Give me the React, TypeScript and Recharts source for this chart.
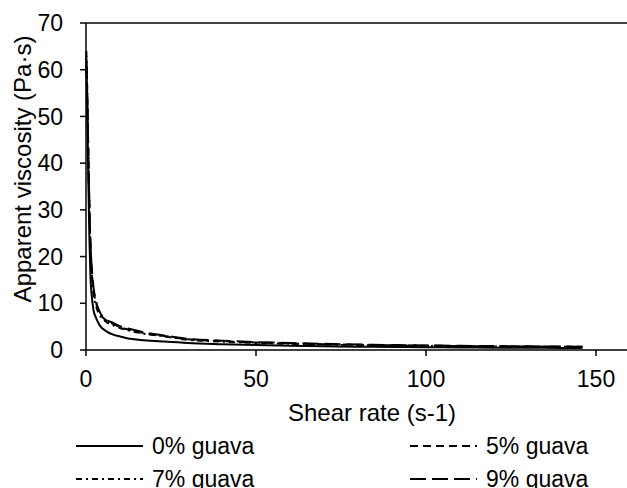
import React from 'react';
import { LineChart, Line, XAxis, YAxis, Legend, ReferenceLine } from 'recharts';

// shear rate (s-1) and apparent viscosity (Pa·s)
const shearRate = [0.1, 0.3, 0.5, 0.7, 1, 1.3, 1.7, 2.2, 3, 4, 6, 8, 10, 13, 17, 23, 30, 40, 50, 60, 70, 80, 90, 100, 110, 120, 130, 140, 146];
const guava0 = [63, 55, 45, 36, 24, 16, 11.5, 8.6, 6.8, 5.3, 4.0, 3.3, 2.9, 2.4, 2.1, 1.8, 1.5, 1.25, 1.05, 0.9, 0.8, 0.72, 0.65, 0.6, 0.55, 0.5, 0.47, 0.44, 0.42];
const guava5 = [60, 57, 50, 42, 31, 23, 17, 13, 10, 8, 6.3, 5.6, 4.9, 4.3, 3.6, 3.0, 2.3, 1.9, 1.6, 1.4, 1.25, 1.1, 1.0, 0.92, 0.85, 0.8, 0.75, 0.7, 0.68];
const guava7 = [64, 58, 50, 41, 30, 22, 16, 12, 9.3, 7.5, 6.0, 5.3, 4.7, 4.1, 3.5, 2.9, 2.2, 1.8, 1.5, 1.3, 1.15, 1.05, 0.95, 0.88, 0.82, 0.77, 0.72, 0.68, 0.65];
const guava9 = [62, 56, 49, 41, 31, 23, 17.5, 13.5, 10.3, 8.2, 6.5, 5.8, 5.1, 4.5, 3.8, 3.1, 2.4, 2.0, 1.7, 1.5, 1.32, 1.18, 1.07, 0.98, 0.9, 0.84, 0.78, 0.74, 0.72];

const xTicks = [0, 50, 100, 150];
const yTicks = [0, 10, 20, 30, 40, 50, 60, 70];

const series = [
  { key: 'g0', name: '0% guava', dash: undefined },
  { key: 'g5', name: '5% guava', dash: '8 5' },
  { key: 'g7', name: '7% guava', dash: '6 4 2 4' },
  { key: 'g9', name: '9% guava', dash: '16 6' },
];

const data = shearRate.map((s, i) => ({
  shear: s,
  g0: guava0[i],
  g5: guava5[i],
  g7: guava7[i],
  g9: guava9[i],
}));

const FONT = '"Liberation Sans", Arial, sans-serif';

const renderLegend = () => (
  <svg width={630} height={70} style={{ display: 'block', overflow: 'visible' }}>
    {series.map((s, i) => {
      const col = i % 2;
      const row = Math.floor(i / 2);
      const lx = col === 0 ? 76 : 410;
      const ly = row === 0 ? 28 : 61;
      return (
        <g key={s.key}>
          <line x1={lx} x2={lx + 67} y1={ly} y2={ly} stroke="#000" strokeWidth={2} strokeDasharray={s.dash} />
          <text x={lx + 76} y={ly + 8} fontSize={23} fontFamily={FONT} fill="#000">{s.name}</text>
        </g>
      );
    })}
  </svg>
);

const App = () => {
  return (
    <div style={{ width: 627, height: 488, overflow: 'hidden', background: '#fff' }}>
      <style>{'body{margin:0}'}</style>
      <LineChart
        width={630}
        height={488}
        data={data}
        margin={{ top: 23, right: 0, left: 0, bottom: 0 }}
        style={{ fontFamily: FONT }}
      >
        <XAxis
          dataKey="shear"
          type="number"
          domain={[0, 160]}
          ticks={xTicks}
          height={68}
          tickSize={6}
          tickMargin={15}
          axisLine={{ stroke: '#000', strokeWidth: 1.5 }}
          tickLine={{ stroke: '#000', strokeWidth: 1.5 }}
          tick={{ fill: '#000', fontSize: 23 }}
          label={({ viewBox }) => (
            <text x={viewBox.x + viewBox.width / 2 + 14} y={421} textAnchor="middle" fontSize={24} fill="#000">
              Shear rate (s-1)
            </text>
          )}
        />
        <YAxis
          type="number"
          domain={[0, 70]}
          ticks={yTicks}
          width={86}
          tickSize={6}
          tickMargin={17}
          axisLine={{ stroke: '#000', strokeWidth: 1.5 }}
          tickLine={{ stroke: '#000', strokeWidth: 1.5 }}
          tick={{ fill: '#000', fontSize: 23 }}
          label={() => (
            <text transform="translate(31,169) rotate(-90)" textAnchor="middle" fontSize={24} fill="#000">
              Apparent viscosity (Pa·s)
            </text>
          )}
        />
        <ReferenceLine y={70} stroke="#000" strokeWidth={1.5} />
        {series.map((s) => (
          <Line
            key={s.key}
            type="monotone"
            dataKey={s.key}
            name={s.name}
            stroke="#000"
            strokeWidth={2}
            strokeDasharray={s.dash}
            dot={false}
            isAnimationActive={false}
          />
        ))}
        <Legend
          verticalAlign="bottom"
          content={renderLegend}
          wrapperStyle={{ top: 418, left: 0, width: 630, height: 70 }}
        />
      </LineChart>
    </div>
  );
};

export default App;
